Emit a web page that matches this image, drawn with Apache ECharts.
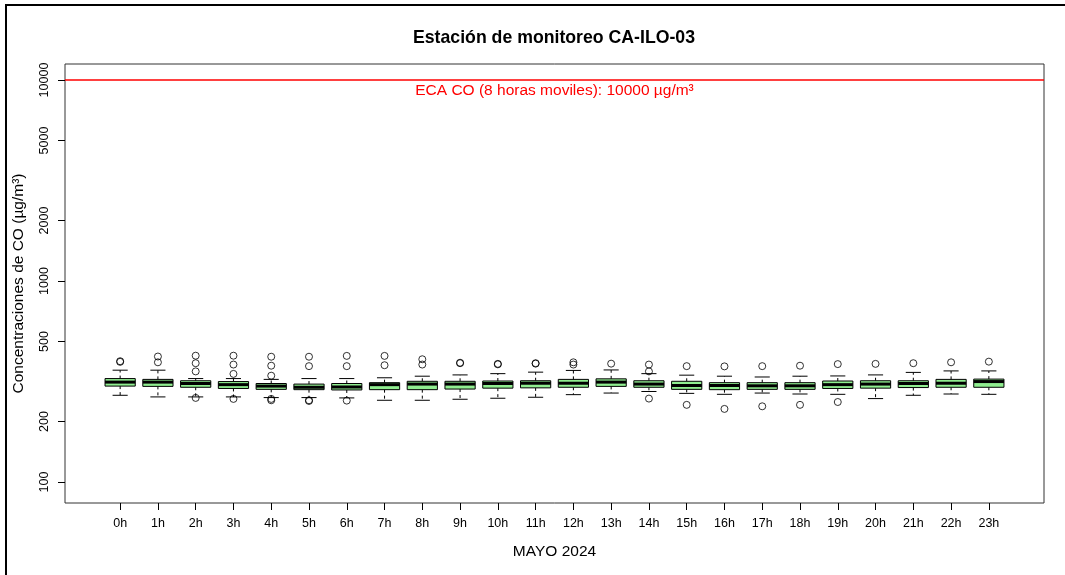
<!DOCTYPE html>
<html>
<head>
<meta charset="utf-8">
<script src="https://cdn.jsdelivr.net/npm/echarts@6/dist/echarts.min.js"></script>
<style>html,body{margin:0;padding:0;background:#fff;}#c{width:1065px;height:575px;}</style>
</head>
<body>
<div id="c"></div>
<script>
const hours = ['0h','1h','2h','3h','4h','5h','6h','7h','8h','9h','10h','11h','12h','13h','14h','15h','16h','17h','18h','19h','20h','21h','22h','23h'];
const whiskerLow  = [270,265,265,265,263,263,262,255,255,258,261,264,272,277,282,276,273,277,274,273,260,270,274,273];
const q1          = [300,299,296,292,289,288,287,288,288,290,293,294,296,299,296,289,288,289,289,292,293,295,296,296];
const median      = [314,314,309,305,300,296,297,305,307,307,309,310,310,314,307,302,302,301,301,305,307,309,310,316];
const q3          = [327,324,319,316,309,307,309,312,317,317,318,319,324,326,319,317,312,312,312,318,319,319,324,325];
const whiskerHigh = [360,360,327,327,324,327,327,330,336,341,346,352,359,361,346,340,336,333,336,337,341,351,357,357];
// outliers: [hour index, value]
const outliers = [
  [0,396],[0,399],
  [1,421],[1,394],
  [2,425],[2,390],[2,355],[2,262],
  [3,425],[3,384],[3,345],[3,259],
  [4,420],[4,379],[4,338],[4,259],[4,255],
  [5,420],[5,377],[5,253],[5,255],
  [6,424],[6,377],[6,254],
  [7,424],[7,381],
  [8,408],[8,384],
  [9,390],[9,392],
  [10,385],[10,387],
  [11,388],[11,390],
  [12,394],[12,384],
  [13,388],
  [14,384],[14,355],[14,260],
  [15,377],[15,242],
  [16,376],[16,231],
  [17,377],[17,238],
  [18,379],[18,242],
  [19,386],[19,250],
  [20,387],
  [21,390],
  [22,394],
  [23,397]
];
const yTicks = [100,200,500,1000,2000,5000,10000];
const ecaLimit = 10000;

const boxData = hours.map((h,i)=>[i+1, whiskerLow[i], q1[i], median[i], q3[i], whiskerHigh[i]]);
const outData = outliers.map(o=>[o[0]+1, o[1]]);
const xPos = hours.map((h,i)=>i+1);

const chart = echarts.init(document.getElementById('c'), null, {renderer:'canvas'});
const FONT = 'Liberation Sans, Arial, sans-serif';
chart.setOption({
  animation:false,
  backgroundColor:'#fff',
  textStyle:{fontFamily:FONT},
  title:{
    text:'Estación de monitoreo CA-ILO-03',
    left:549, top:24, textAlign:'center',
    textStyle:{fontFamily:FONT, fontSize:17.7, fontWeight:'bold', color:'#000'}
  },
  graphic:[{
    type:'rect', shape:{x:6,y:5,width:1100,height:620},
    style:{fill:'none', stroke:'#000', lineWidth:2}, silent:true
  }],
  grid:{left:65,right:21,top:64,bottom:72,show:true,borderColor:'#333',borderWidth:1,backgroundColor:'transparent'},
  xAxis:{
    type:'value', min:-0.46, max:25.46,
    name:'MAYO 2024', nameLocation:'middle', nameGap:41, nameMoveOverlap:false,
    nameTextStyle:{fontFamily:FONT,fontSize:15.5,color:'#000'},
    axisLine:{show:false, onZero:false},
    axisTick:{show:true, length:7, lineStyle:{color:'#000'}, customValues:xPos},
    axisLabel:{fontFamily:FONT,fontSize:12.5,color:'#000',margin:14, customValues:xPos,
      formatter:(v)=>hours[Math.round(v)-1]},
    splitLine:{show:false}
  },
  yAxis:{
    type:'log', logBase:10, min:78.6, max:12017,
    name:'Concentraciones de CO (µg/m³)', nameLocation:'middle', nameGap:38, nameMoveOverlap:false,
    nameTextStyle:{fontFamily:FONT,fontSize:15.5,color:'#000'},
    axisLine:{show:false, onZero:false},
    axisTick:{show:true,length:7,lineStyle:{color:'#000'}, customValues:yTicks},
    axisLabel:{fontFamily:FONT,fontSize:12.5,color:'#000',rotate:90,margin:14, customValues:yTicks,
      formatter:(v)=>String(Math.round(v))},
    splitLine:{show:false},
    minorTick:{show:false}
  },
  series:[
    {
      type:'custom',
      data:boxData,
      encode:{x:0, y:[1,2,3,4,5]},
      renderItem:function(params, api){
        const x = api.value(0);
        const pLo = api.coord([x, api.value(1)]);
        const pQ1 = api.coord([x, api.value(2)]);
        const pMed = api.coord([x, api.value(3)]);
        const pQ3 = api.coord([x, api.value(4)]);
        const pHi = api.coord([x, api.value(5)]);
        const left = api.coord([x-0.4, api.value(3)])[0];
        const right = api.coord([x+0.4, api.value(3)])[0];
        const sl = api.coord([x-0.2, api.value(3)])[0];
        const sr = api.coord([x+0.2, api.value(3)])[0];
        const cx = pMed[0];
        const blk = {stroke:'#000', lineWidth:1};
        return {type:'group', children:[
          {type:'line', shape:{x1:cx,y1:pQ3[1],x2:cx,y2:pHi[1]}, style:{stroke:'#000',lineWidth:1,lineDash:[3,3]}},
          {type:'line', shape:{x1:cx,y1:pQ1[1],x2:cx,y2:pLo[1]}, style:{stroke:'#000',lineWidth:1,lineDash:[3,3]}},
          {type:'line', shape:{x1:sl,y1:pHi[1],x2:sr,y2:pHi[1]}, style:blk},
          {type:'line', shape:{x1:sl,y1:pLo[1],x2:sr,y2:pLo[1]}, style:blk},
          {type:'rect', shape:{x:left,y:pQ3[1],width:right-left,height:pQ1[1]-pQ3[1]}, style:{fill:'#90EE90',stroke:'#000',lineWidth:1}},
          {type:'line', shape:{x1:left,y1:pMed[1],x2:right,y2:pMed[1]}, style:{stroke:'#000',lineWidth:3}}
        ]};
      },
      z:2
    },
    {
      type:'scatter',
      data:outData,
      symbol:'circle', symbolSize:7,
      itemStyle:{color:'transparent', borderColor:'#000', borderWidth:1},
      z:3,
      markLine:{
        silent:true, symbol:['none','none'],
        data:[{yAxis:ecaLimit}],
        lineStyle:{color:'#ff0000', type:'solid', width:1.5},
        label:{show:true, position:'insideMiddleBottom', distance:3,
          formatter:'ECA CO (8 horas moviles): 10000 µg/m³',
          color:'#ff0000', fontFamily:FONT, fontSize:15.5},
        emphasis:{disabled:true}
      }
    }
  ]
});
</script>
</body>
</html>
